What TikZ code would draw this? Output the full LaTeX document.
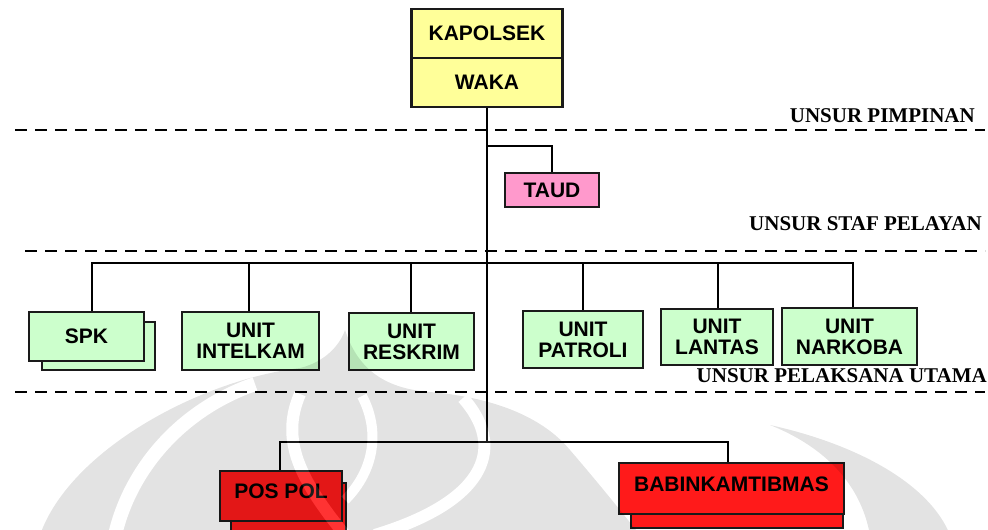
\documentclass[tikz,border=0pt]{standalone}
\usepackage{fontspec}
\setmainfont{Liberation Serif}
\setsansfont{Liberation Sans}
\usetikzlibrary{positioning}

\definecolor{leadyellow}{HTML}{FFFF99}
\definecolor{staffpink}{HTML}{FF99CC}
\definecolor{unitgreen}{HTML}{CCFFCC}
\definecolor{fieldred}{HTML}{FF1A1A}
\definecolor{edgegray}{HTML}{1A1A1A}

\begin{document}
\begin{tikzpicture}[x=1pt,y=-1pt,
    orgbox/.style={draw=edgegray, line width=2.2pt, inner sep=0pt, align=center,
      font=\sffamily\bfseries\fontsize{21}{21}\selectfont},
    leadbox/.style={orgbox, fill=leadyellow, minimum width=151pt, minimum height=49pt},
    staffbox/.style={orgbox, fill=staffpink},
    unitbox/.style={orgbox, fill=unitgreen},
    fieldbox/.style={orgbox, fill=fieldred, text height=15pt, text depth=10pt},
    link/.style={line width=2pt},
    divider/.style={line width=2pt, dash pattern=on 12pt off 8pt},
    layername/.style={anchor=base east, inner sep=0pt,
      font=\rmfamily\bfseries\fontsize{21}{21}\selectfont}]
  \useasboundingbox (0,0) rectangle (988,530);

  \node[leadbox]  (kapolsek) at (487,33.5) {KAPOLSEK};
  \node[leadbox]  (waka)     at (487,82.5) {WAKA};
  \node[staffbox, minimum width=94pt, minimum height=34pt] (taud) at (552,190) {TAUD};

  \node[unitbox, minimum width=113pt, minimum height=48pt] (spkback)  at (98.5,346)   {};
  \node[unitbox, minimum width=115pt, minimum height=49pt] (spk)      at (86.5,336.5) {SPK};
  \node[unitbox, minimum width=137pt, minimum height=58pt] (intelkam) at (250.5,341)  {UNIT\\INTELKAM};
  \node[unitbox, minimum width=125pt, minimum height=57pt] (reskrim)  at (411.5,341.5) {UNIT\\RESKRIM};
  \node[unitbox, minimum width=120pt, minimum height=57pt] (patroli)  at (583,339.5)  {UNIT\\PATROLI};
  \node[unitbox, minimum width=112pt, minimum height=56pt] (lantas)   at (717,337)    {UNIT\\LANTAS};
  \node[unitbox, minimum width=135pt, minimum height=57pt] (narkoba)  at (849.5,336.5) {UNIT\\NARKOBA};

  \node[fieldbox, minimum width=115pt, minimum height=62pt] (pospolback) at (288.5,514) {};
  \node[fieldbox, minimum width=122pt, minimum height=50pt] (pospol)     at (281,496)   {POS POL};
  \node[fieldbox, minimum width=212pt, minimum height=53pt] (babinback)  at (737,501.5) {};
  \node[fieldbox, minimum width=225pt, minimum height=51pt] (babin)      at (731.5,488.5) {BABINKAMTIBMAS};

  \coordinate (staffjoin) at (487,146);
  \coordinate (busL)      at (92,263);
  \coordinate (busR)      at (853,263);
  \coordinate (fieldbus)  at (487,442);
  \coordinate (fbL)       at (280,442);
  \coordinate (fbR)       at (728,442);

  \draw[link] (waka.south) -- (fieldbus);
  \draw[link] (staffjoin) -| (taud.north);
  \draw[link] (busL |- spk.north) |- (busR) -- (busR |- narkoba.north);
  \foreach \n/\x in {intelkam/249, reskrim/411, patroli/583, lantas/718}{
    \coordinate (drop\n) at (\x,263);
    \draw[link] (drop\n) -- (drop\n |- \n.north);
  }
  \draw[link] (fbL |- pospol.north) |- (fbR) -- (fbR |- babin.north);

  \draw[divider] (15,130) -- (985,130);
  \draw[divider] (25,251) -- (985,251);
  \draw[divider] (15,392) -- (985,392);

  \node[layername] (pimpinan)  at (975,122) {UNSUR PIMPINAN};
  \node[layername] (staf)      at (982,230) {UNSUR STAF PELAYAN};
  \node[layername] (pelaksana) at (987,382) {UNSUR PELAKSANA UTAMA};

  \begin{scope}[transparency group, opacity=0.11]
    \clip (0,0) rectangle (988,530);
    \fill (40,535) .. controls (70,450) and (200,380) .. (300,368)
      .. controls (325,362) and (340,345) .. (345,330)
      .. controls (355,360) and (375,388) .. (430,392)
      .. controls (500,398) and (545,420) .. (570,450)
      .. controls (600,485) and (620,510) .. (640,535) -- cycle;
    \fill (870,535) .. controls (860,480) and (820,445) .. (770,425)
      .. controls (860,445) and (930,485) .. (950,535) -- cycle;
    \draw[white, line width=14pt] (255,384) .. controls (180,410) and (130,470) .. (115,535);
    \draw[white, line width=12pt] (300,394) .. controls (280,440) and (300,480) .. (345,535);
    \draw[white, line width=10pt] (362,396) .. controls (380,430) and (375,470) .. (345,500);
    \draw[white, line width=12pt] (463,398) .. controls (505,445) and (490,500) .. (375,535);
  \end{scope}
\end{tikzpicture}
\end{document}
